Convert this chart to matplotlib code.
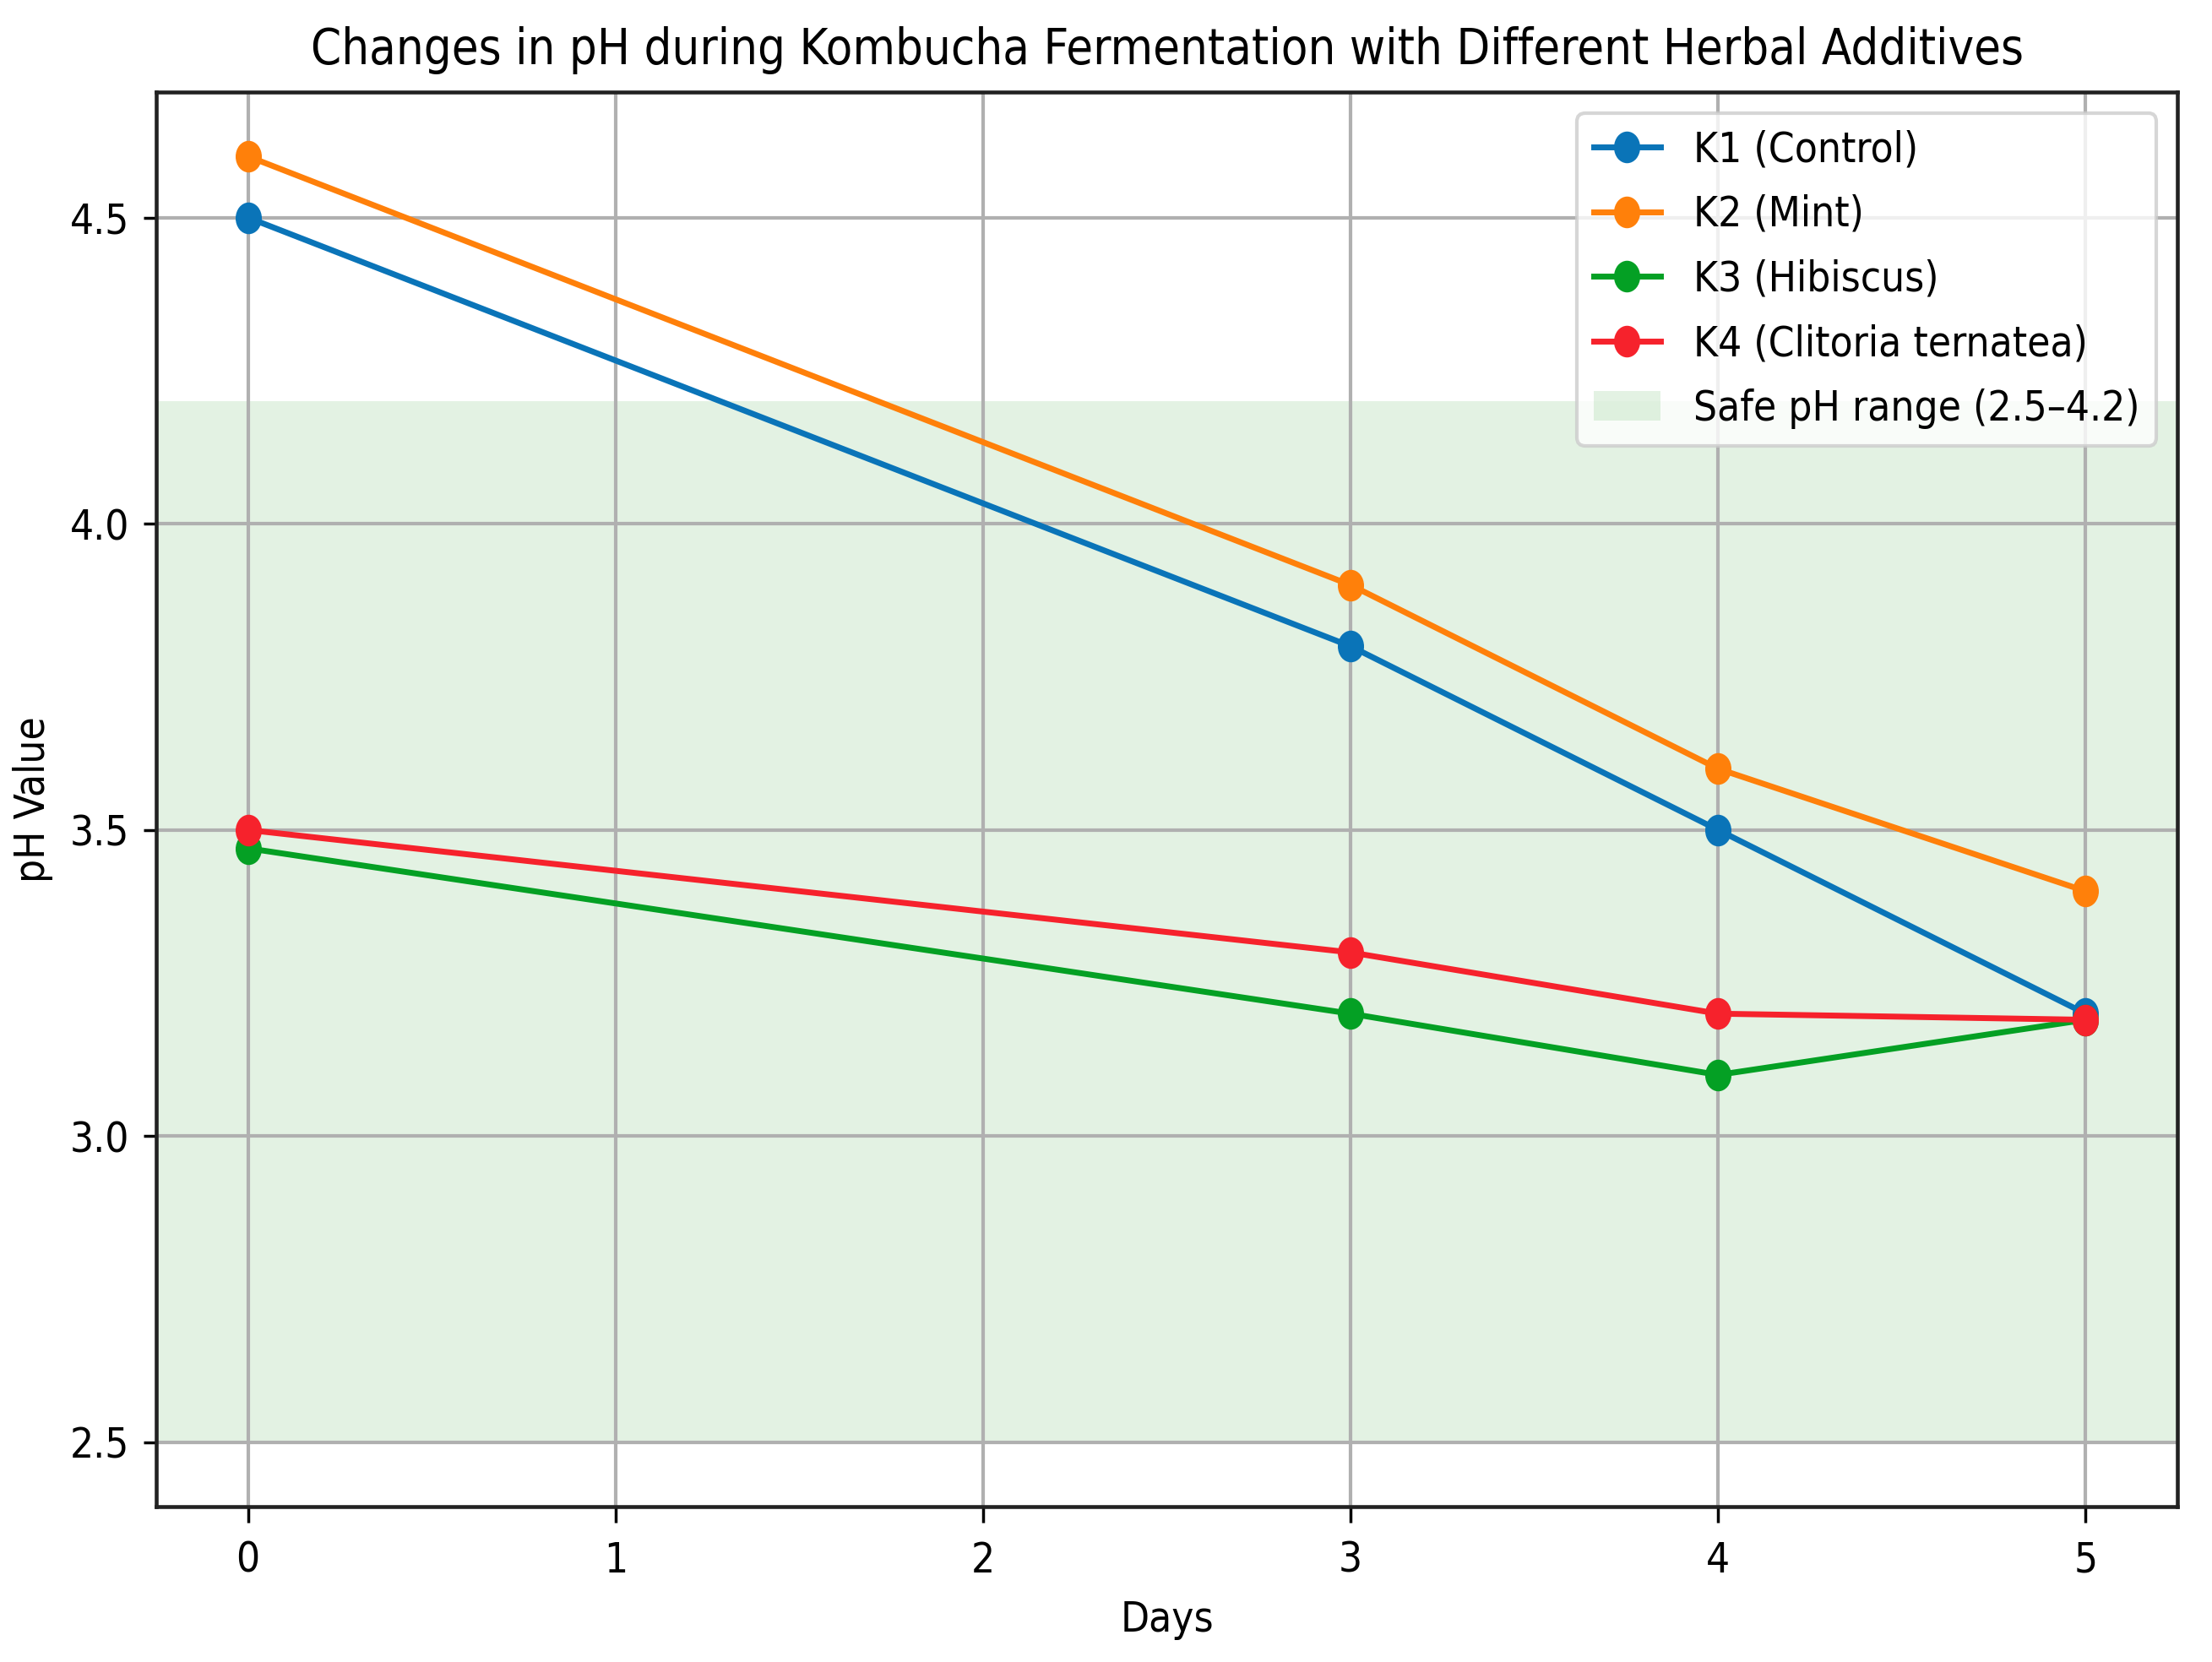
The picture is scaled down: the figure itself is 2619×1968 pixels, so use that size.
import matplotlib
matplotlib.use('Agg')
import matplotlib.pyplot as plt
from matplotlib.markers import MarkerStyle
from matplotlib.transforms import Affine2D

days = [0, 3, 4, 5]
k1_control = [4.5, 3.8, 3.5, 3.2]
k2_mint = [4.6, 3.9, 3.6, 3.4]
k3_hibiscus = [3.47, 3.2, 3.1, 3.19]
k4_clitoria = [3.5, 3.3, 3.2, 3.19]
safe_low, safe_high = 2.5, 4.2

plt.rcParams['font.family'] = 'DejaVu Sans'
plt.rcParams['font.stretch'] = 'condensed'
plt.rcParams['font.size'] = 35.5

# the reference looks stretched vertically, so squash markers a bit sideways
dot = MarkerStyle('o', transform=Affine2D().scale(0.82, 1.0))

fig = plt.figure(figsize=(26.19, 19.68), dpi=100)
ax = fig.add_axes([0.0706, 0.0935, 0.9138, 0.8511])

ax.axhspan(safe_low, safe_high, color='#2ca02c', alpha=0.13, lw=0, label='Safe pH range (2.5–4.2)')
ax.plot(days, k1_control, marker=dot, ms=26, lw=5, color='#0a74b8', label='K1 (Control)')
ax.plot(days, k2_mint, marker=dot, ms=26, lw=5, color='#ff800a', label='K2 (Mint)')
ax.plot(days, k3_hibiscus, marker=dot, ms=26, lw=5, color='#04a024', label='K3 (Hibiscus)')
ax.plot(days, k4_clitoria, marker=dot, ms=26, lw=5, color='#f6222c', label='K4 (Clitoria ternatea)')

ax.set_title('Changes in pH during Kombucha Fermentation with Different Herbal Additives',
             fontsize=41.5, pad=24)
ax.set_xlabel('Days', labelpad=16)
ax.set_ylabel('pH Value', labelpad=14)
ax.set_yticks([2.5, 3.0, 3.5, 4.0, 4.5])

ax.grid(True, color='#b0b0b0', lw=3)
for s in ax.spines.values():
    s.set_linewidth(3.3)
    s.set_color('#222222')
ax.tick_params(axis='x', length=13.5, width=2.5, pad=15)
ax.tick_params(axis='y', length=11, width=2.5, pad=12)

handles, labels = ax.get_legend_handles_labels()
order = [1, 2, 3, 4, 0]
leg = ax.legend([handles[i] for i in order], [labels[i] for i in order], loc='upper right',
                handlelength=1.6, labelspacing=0.58)
leg.get_frame().set_linewidth(3)

fig.savefig('out.png')
